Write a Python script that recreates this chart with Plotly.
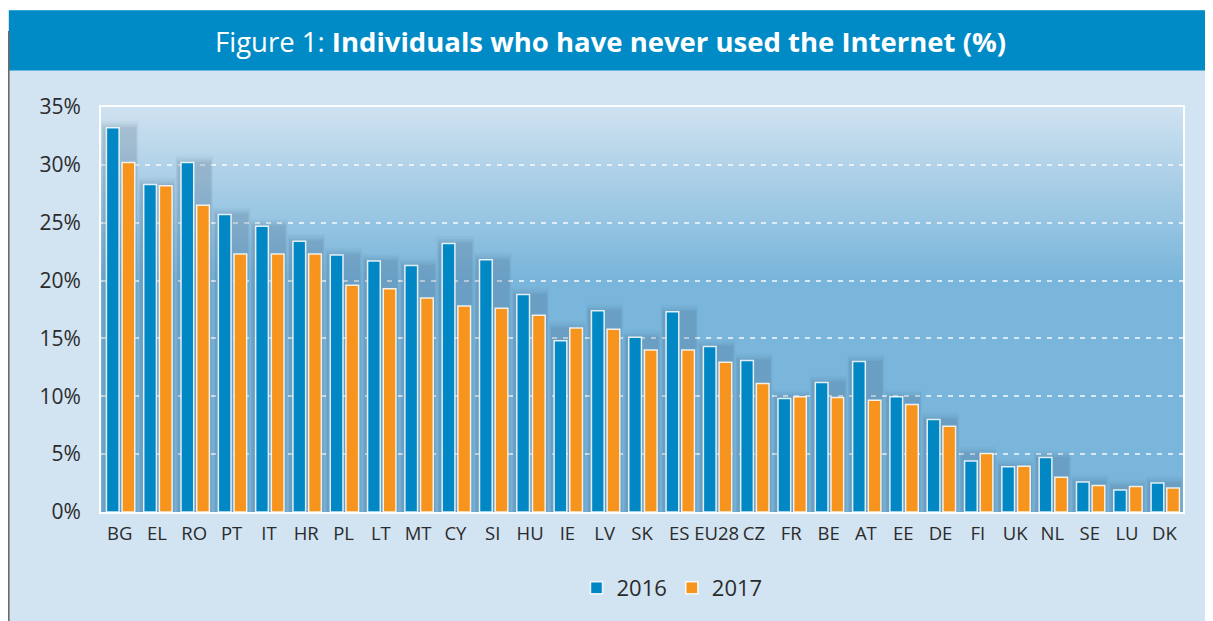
import plotly.graph_objects as go

countries = ["BG", "EL", "RO", "PT", "IT", "HR", "PL", "LT", "MT", "CY", "SI", "HU", "IE", "LV", "SK",
             "ES", "EU28", "CZ", "FR", "BE", "AT", "EE", "DE", "FI", "UK", "NL", "SE", "LU", "DK"]
v2016 = [33.2, 28.3, 30.2, 25.7, 24.7, 23.4, 22.2, 21.7, 21.3, 23.2, 21.8, 18.8, 14.8, 17.4, 15.1,
         17.3, 14.3, 13.1, 9.8, 11.2, 13.0, 9.95, 8.0, 4.4, 3.9, 4.7, 2.6, 1.9, 2.5]
v2017 = [30.2, 28.2, 26.5, 22.3, 22.3, 22.3, 19.6, 19.3, 18.5, 17.8, 17.6, 17.0, 15.9, 15.8, 14.0,
         14.0, 12.95, 11.1, 9.95, 9.9, 9.65, 9.3, 7.4, 5.05, 3.95, 3.0, 2.3, 2.2, 2.07]
y_ticks = [0, 5, 10, 15, 20, 25, 30, 35]
y_tick_labels = [f"{t}%" for t in y_ticks]

# page is rendered with an 8px body margin: figure coordinates = page coordinates - 8
OFF = 8
W, H = 1213 - OFF, 621 - OFF
ML, MR, MT, MB = 101 - OFF, 30, 107 - OFF, 104
PW, PH = W - ML - MR, H - MT - MB


def px_x(p):
    return (p - OFF - ML) / PW


def px_y(p):
    return (H - MB - (p - OFF)) / PH


fig = go.Figure()

pair_max = [max(a, b) for a, b in zip(v2016, v2017)]
shadow_layers = [(1.0, 0.6, 0.04), (0.96, 0.4, 0.05), (0.92, 0.2, 0.06), (0.88, 0.05, 0.06)]
for wdt, extra, alpha in shadow_layers:
    fig.add_trace(go.Bar(x=countries, y=[m + extra for m in pair_max], width=wdt, offset=-wdt / 2,
                         marker=dict(color=f"rgba(45,75,105,{alpha})", line=dict(width=0)),
                         showlegend=False, hoverinfo="skip"))

fig.add_trace(go.Bar(name="2016", x=countries, y=v2016, width=0.34, offset=-0.355,
                     marker=dict(color="#0087c4", line=dict(color="rgba(255,255,255,0.85)", width=1.5))))
fig.add_trace(go.Bar(name="2017", x=countries, y=v2017, width=0.34, offset=0.065,
                     marker=dict(color="#f7941d", line=dict(color="rgba(255,255,255,0.85)", width=1.5))))

shapes = []
shapes.append(dict(type="rect", xref="paper", yref="paper", x0=px_x(0), x1=px_x(1300),
                   y0=px_y(9), y1=px_y(-20), fillcolor="white", line=dict(width=0), layer="below"))
shapes.append(dict(type="rect", xref="paper", yref="paper", x0=px_x(9), x1=px_x(1300),
                   y0=px_y(70), y1=px_y(9), fillcolor="#008bc6", line=dict(width=0), layer="below"))
shapes.append(dict(type="line", xref="paper", yref="paper", x0=px_x(8.8), x1=px_x(8.8),
                   y0=px_y(700), y1=px_y(30), line=dict(color="#6b6b6b", width=1.6), layer="below"))

# vertical gradient of plot area
top = (0xcf, 0xe2, 0xf0)
bot = (0x7a, 0xb6, 0xdb)
N = 40
g_end = 0.58
for i in range(N):
    t = (i + 0.5) / N
    c = tuple(int(round(top[k] + (bot[k] - top[k]) * t)) for k in range(3))
    y1 = 1 - (1 - g_end) * i / N
    y0 = 1 - (1 - g_end) * (i + 1) / N
    shapes.append(dict(type="rect", xref="paper", yref="paper", x0=0, x1=1, y0=y0 - 0.002, y1=y1,
                       fillcolor="rgb(%d,%d,%d)" % c, line=dict(width=0), layer="below"))

fig.add_annotation(
    xref="paper", yref="paper", x=px_x(610), y=px_y(41), showarrow=False,
    xanchor="center", yanchor="middle",
    text="Figure 1: <b>Individuals who have never used the Internet (%)</b>",
    font=dict(family="Open Sans", size=27.5, color="white"))

fig.update_layout(
    width=W, height=H,
    margin=dict(l=ML, r=MR, t=MT, b=MB),
    barmode="overlay",
    paper_bgcolor="#d2e3f2",
    plot_bgcolor="#7ab6db",
    shapes=shapes,
    font=dict(family="Open Sans", color="#2b2b2b"),
    showlegend=True,
    legend=dict(orientation="h", x=px_x(672), y=px_y(594), xanchor="center", yanchor="middle",
                font=dict(size=22, color="#2b2b2b"), bgcolor="rgba(0,0,0,0)", itemwidth=30,
                traceorder="normal"),
    xaxis=dict(type="category", range=[-0.5, len(countries) - 0.5], showgrid=False,
               tickfont=dict(size=18.5, color="#2b2b2b"), ticks="", ticklabelstandoff=4,
               showline=True, linecolor="rgba(255,255,255,0.95)", linewidth=2, mirror=True),
    yaxis=dict(range=[0, 35], tickmode="array", tickvals=y_ticks, ticktext=y_tick_labels,
               showgrid=True, gridcolor="rgba(255,255,255,0.7)", gridwidth=1.5, griddash="5px,6px",
               zeroline=False, tickfont=dict(size=21, color="#2b2b2b"), ticks="",
               ticklabelstandoff=14,
               showline=True, linecolor="rgba(255,255,255,0.95)", linewidth=2, mirror=True),
)

fig.write_html("out.html")
